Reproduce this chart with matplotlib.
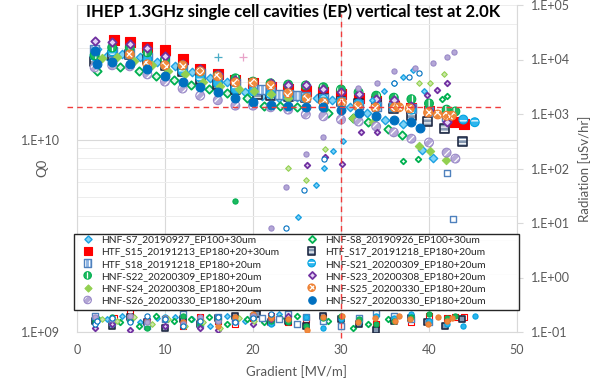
import matplotlib
matplotlib.use('Agg')
import matplotlib.pyplot as plt
import numpy as np
from matplotlib.ticker import FixedLocator, FuncFormatter, NullFormatter
from matplotlib.patches import Rectangle
from matplotlib.lines import Line2D

plt.rcParams['font.family'] = ['Lato', 'DejaVu Sans']
plt.rcParams['hatch.linewidth'] = 0.9

# ---------------- data (Q0 in units of 1e10, radiation in uSv/hr) ----------------
s7_g = [2.3, 3.4, 5.1, 7.2, 9.1, 11.1, 13.1, 15.1, 17.0, 19.1, 21.0, 23.0, 25.0, 27.3, 29.0, 31.0, 33.0, 35.0, 37.0, 39.2, 40.5]
s7_q = [2.94, 2.71, 2.77, 2.67, 2.52, 2.40, 2.24, 2.08, 1.98, 1.76, 1.69, 1.65, 1.67, 1.64, 1.60, 1.47, 1.37, 1.27, 1.21, 0.887, 0.806]
s7_rg = [2.3, 3.4, 5.1, 7.2, 9.1, 11.1, 13.1, 15.1, 17.0, 19.1, 21.0, 23.0, 25.1, 27.2, 28.1, 29.1, 30.2, 33.5, 34.9, 36.0, 37.0, 38.2, 39.4]
s7_r = [0.16, 0.17, 0.2, 0.15, 0.18, 0.19, 0.17, 0.13, 0.2, 0.16, 0.18, 0.21, 13, 50, 102, 210, 316, 1800, 2600, 3700, 4700, 6400, 2600]

s8_g = [2.3, 4.9, 7, 9, 11, 13, 15, 17, 19.3, 21.3, 23.1, 25, 28.5, 31.4, 33.1, 35.3, 36.9]
s8_q = [2.26, 2.37, 2.26, 2.15, 2.05, 1.93, 1.82, 1.74, 1.65, 1.50, 1.50, 1.47, 1.38, 1.29, 1.23, 1.14, 1.06]
s8_rg = [2.3, 4.9, 7, 9, 11, 13, 15, 17, 19.3, 21.3, 23.1, 25, 28.5, 31.4, 33.1, 35.3, 37, 38.8, 41.5, 42]
s8_r = [0.18, 0.15, 0.13, 0.2, 0.16, 0.17, 0.19, 0.14, 0.17, 0.15, 0.18, 0.2, 0.16, 0.12, 0.14, 0.17, 138, 150, 1900, 2100]

s15_g = [4.2, 6, 8, 10, 12, 14, 16, 18, 20, 22, 24, 26, 28, 30, 32, 34, 36, 38, 40, 42, 43, 44]
s15_q = [3.28, 3.20, 3.01, 2.91, 2.61, 2.32, 2.18, 2.05, 1.96, 1.87, 1.82, 1.78, 1.76, 1.72, 1.65, 1.58, 1.50, 1.45, 1.40, 1.32, 1.24, 1.20]
s15_r = [0.18, 0.22, 0.15, 0.17, 0.13, 0.19, 0.16, 0.14, 0.18, 0.2, 0.15, 0.17, 0.19, 0.13, 0.16, 0.14, 0.18, 0.15, 0.2, 0.18, 0.19, 0.19]

s17_g = [2, 4, 6, 8, 10, 12, 14, 16, 18, 20.5, 22, 24, 26, 28, 30, 32, 34, 36, 38, 39.8, 41.8, 43.8]
s17_q = [2.55, 2.74, 2.77, 2.61, 2.43, 2.26, 2.05, 1.93, 1.82, 1.72, 1.69, 1.67, 1.65, 1.64, 1.58, 1.54, 1.54, 1.45, 1.33, 1.24, 1.14, 0.976]
s17_r = [0.16, 0.13, 0.19, 0.15, 0.12, 0.17, 0.14, 0.18, 0.2, 0.21, 0.15, 0.16, 0.13, 0.2, 0.17, 0.14, 0.11, 0.16, 0.18, 0.15, 0.13, 0.17]

s18_g = [2, 4, 6, 8, 10, 12, 14, 16, 18, 20, 21, 22, 23, 24, 25, 26, 28, 30, 32, 34, 36, 38, 40, 42]
s18_q = [2.94, 2.87, 2.80, 2.67, 2.55, 2.37, 2.21, 2.10, 1.96, 1.89, 1.82, 1.78, 1.72, 1.72, 1.69, 1.67, 1.64, 1.58, 1.52, 1.49, 1.49, 1.45, 1.40, 1.32]
s18_rg = [2, 4, 6, 8, 10, 12, 14, 16, 18, 20, 21, 22, 23, 24, 25, 26, 28, 30, 32, 34, 36, 38, 40, 42, 42.7]
s18_r = [0.2, 0.15, 0.18, 0.13, 0.17, 0.21, 0.14, 0.19, 0.16, 0.2, 0.18, 0.15, 0.17, 0.21, 0.14, 0.19, 0.16, 0.13, 0.18, 0.22, 0.2, 0.17, 0.15, 83, 12]

s21_g = [2, 4, 6, 8, 10, 12, 14, 16, 18, 20, 22, 24, 26, 28, 30, 32, 34, 36, 38, 40, 42, 43.9, 45.2]
s21_q = [2.71, 2.87, 2.77, 2.61, 2.43, 2.26, 2.10, 1.96, 1.82, 1.78, 1.72, 1.67, 1.64, 1.62, 1.58, 1.54, 1.50, 1.47, 1.43, 1.40, 1.35, 1.27, 1.23]
s21_r = [0.17, 0.14, 0.2, 0.16, 0.19, 0.13, 0.18, 0.15, 0.17, 0.2, 0.14, 0.16, 0.19, 0.12, 0.17, 0.15, 0.2, 0.18, 0.21, 0.16, 0.14, 0.13, 0.2]

s22_g = [2, 4, 6, 8, 10, 12, 14, 16, 18, 20, 22, 24, 26, 28, 30, 32, 34, 36, 38, 40, 42, 43]
s22_q = [2.74, 3.01, 3.01, 2.84, 2.61, 2.43, 2.26, 2.15, 2.08, 2.00, 1.96, 1.93, 1.91, 1.87, 1.82, 1.76, 1.69, 1.65, 1.62, 1.54, 1.43, 1.40]
s22_r = [0.15, 0.19, 0.16, 0.12, 0.18, 0.2, 0.14, 0.17, 25, 0.19, 0.16, 0.15, 0.13, 0.18, 0.2, 0.17, 0.14, 0.16, 0.19, 0.21, 0.18, 0.2]

s23_g = [2, 4, 6, 8, 10, 12, 14, 16, 18, 20, 22, 24, 26, 28, 30, 32, 34, 36, 38, 40, 42]
s23_q = [3.24, 3.20, 3.12, 2.98, 2.71, 2.46, 2.32, 2.18, 2.05, 1.98, 1.96, 1.93, 1.91, 1.84, 1.76, 1.72, 1.62, 1.60, 1.50, 1.40, 1.23]
s23_rg = [2, 4, 6, 8, 10, 12, 14, 16, 18, 20, 22, 24, 26.1, 28.2, 30.1, 32.3, 34.1, 39.8, 40.9, 42]
s23_r = [0.12, 0.14, 0.11, 0.17, 0.13, 0.15, 0.12, 0.11, 0.16, 0.14, 0.17, 0.2, 115, 162, 120, 470, 470, 2240, 2750, 3700]

s24_g = [2.8, 4.5, 6.5, 8.5, 10.3, 12.3, 14.3, 16.3, 18.4, 20.1, 22, 24, 26, 28, 30, 31.4, 33.6, 35.9, 38.9, 40.1, 41.9]
s24_q = [2.64, 2.67, 2.55, 2.43, 2.26, 2.18, 2.00, 1.89, 1.82, 1.78, 1.72, 1.65, 1.62, 1.54, 1.43, 1.29, 1.24, 1.09, 0.93, 0.876, 0.787]
s24_rg = [2.8, 4.5, 6.5, 8.5, 10.3, 12.3, 14.3, 16.3, 18.4, 20.1, 22, 24, 26, 28.2, 38.9, 40.1, 41.7]
s24_r = [0.17, 0.16, 0.19, 0.14, 0.17, 0.13, 0.15, 0.12, 0.18, 0.16, 0.2, 102, 62, 228, 3700, 3700, 5400]

s25_g = [6, 8, 10, 12, 14, 16, 18, 20, 22, 24, 26.1, 28, 30.1, 31.9, 33.9, 36.1, 36.6, 37.8, 39.9, 41, 42, 42.6]
s25_q = [2.77, 2.46, 2.43, 2.43, 2.26, 2.13, 1.98, 1.98, 1.91, 1.74, 1.64, 1.56, 1.56, 1.49, 1.47, 1.47, 1.47, 1.45, 1.38, 1.35, 1.33, 1.33]
s25_r = [0.2, 0.16, 0.18, 0.15, 0.17, 0.13, 0.19, 0.21, 0.18, 0.17, 0.11, 0.19, 0.2, 0.15, 0.18, 0.16, 0.2, 0.17, 0.14, 0.19, 0.16, 0.18]

s26_g = [2, 4, 6, 8, 10, 12, 14, 16, 18, 20, 22, 24, 26, 28, 30, 32, 34, 36, 38, 40, 42, 43]
s26_q = [2.37, 2.43, 2.40, 2.18, 2.00, 1.84, 1.69, 1.60, 1.50, 1.50, 1.47, 1.43, 1.35, 1.32, 1.27, 1.24, 1.17, 1.09, 1.01, 0.965, 0.855, 0.796]
s26_rg = [2, 4, 6, 8, 10, 12, 14, 16, 18, 20, 22, 23.7, 26, 28, 31.9, 34.1, 36, 38.4, 40.5, 42, 42.8]
s26_r = [0.19, 0.17, 0.2, 0.15, 0.18, 0.14, 0.19, 0.16, 0.15, 0.2, 8, 46, 185, 380, 3000, 3700, 6200, 6900, 8700, 11000, 13800]

s27_g = [2, 2.3, 4, 6, 8, 10, 12, 14, 16, 18, 20, 22, 24, 26, 28, 30, 32, 34, 36, 38, 39]
s27_q = [2.87, 2.46, 2.52, 2.46, 2.32, 2.13, 1.98, 1.87, 1.76, 1.64, 1.56, 1.52, 1.50, 1.47, 1.47, 1.43, 1.38, 1.32, 1.27, 1.23, 1.15]
s27_rg = [2, 2.3, 4, 6, 8, 10, 12, 14, 16, 18, 20, 22, 23.7, 25.8, 28.1, 36, 37.7, 38.9]
s27_r = [0.14, 0.16, 0.18, 0.15, 0.2, 0.17, 0.13, 0.16, 0.19, 0.15, 0.18, 0.21, 8, 40, 150, 3700, 4800, 5600]

plus_g = [16.0, 18.9]
plus_r = [11000, 11000]

labels = ['HNF-S7_20190927_EP100+30um', 'HNF-S8_20190926_EP100+30um',
          'HTF_S15_20191213_EP180+20+30um', 'HTF_S17_20191218_EP180+20um',
          'HTF_S18_20191218_EP180+20um', 'HNF-S21_20200309_EP180+20um',
          'HNF-S22_20200309_EP180+20um', 'HNF-S23_20200308_EP180+20um',
          'HNF-S24_20200308_EP180+20um', 'HNF-S25_20200330_EP180+20um',
          'HNF-S26_20200330_EP180+20um', 'HNF-S27_20200330_EP180+20um']

q_grad = [s7_g, s8_g, s15_g, s17_g, s18_g, s21_g, s22_g, s23_g, s24_g, s25_g, s26_g, s27_g]
q_vals = [s7_q, s8_q, s15_q, s17_q, s18_q, s21_q, s22_q, s23_q, s24_q, s25_q, s26_q, s27_q]
r_grad = [s7_rg, s8_rg, s15_g, s17_g, s18_rg, s21_g, s22_g, s23_rg, s24_rg, s25_g, s26_rg, s27_rg]
r_vals = [s7_r, s8_r, s15_r, s17_r, s18_r, s21_r, s22_r, s23_r, s24_r, s25_r, s26_r, s27_r]

# ---------------- styles ----------------
styles = [
    dict(m='D', fc='#7FD3F7', ec='#1BA1E2', hatch=None, lw=1.0),          # S7
    dict(m='D', fc='#E2F5E8', ec='#00B050', hatch=None, lw=1.3),          # S8
    dict(m='s', fc='#FF0000', ec='#FF0000', hatch=None, lw=0.8),          # S15
    dict(m='s', fc='#8497B0', ec='#1F2A44', hatch='----', lw=1.2),        # S17
    dict(m='s', fc='#8EB4E3', ec='#4F81BD', hatch='||||', lw=1.0),        # S18
    dict(m='o', fc='#2DB5EE', ec='#00A3E0', hatch='--', lw=0.8),          # S21
    dict(m='o', fc='#1FB860', ec='#00B050', hatch='||', lw=0.8),          # S22
    dict(m='D', fc='#E4D2F5', ec='#7030A0', hatch=None, lw=1.3),          # S23
    dict(m='D', fc='#92D050', ec='#92D050', hatch=None, lw=0.8),          # S24
    dict(m='o', fc='#F08A3C', ec='#ED7D31', hatch='xxxx', lw=0.8),        # S25
    dict(m='o', fc='#B4A7D6', ec='#9A8AC8', hatch='////', lw=0.8),        # S26
    dict(m='o', fc='#0070C0', ec='#0070C0', hatch=None, lw=0.8),          # S27
]
rad_fc = ['#7FD3F7', '#FFFFFF', '#FFFFFF', '#8497B0', '#FFFFFF', '#2DB5EE',
          '#1FB860', '#E4D2F5', '#C9E7A7', '#F08A3C', '#B4A7D6', '#FFFFFF']


def draw(axis, x, y, st, size, z, fc=None, hatch=True):
    fc = st['fc'] if fc is None else fc
    if st['hatch'] and hatch:
        b = axis.scatter(x, y, s=size, marker=st['m'], facecolors=fc, edgecolors='white',
                         linewidths=0, hatch=st['hatch'], zorder=z)
        o = axis.scatter(x, y, s=size, marker=st['m'], facecolors='none', edgecolors=st['ec'],
                         linewidths=st['lw'], zorder=z)
        return (b, o)
    return (axis.scatter(x, y, s=size, marker=st['m'], facecolors=fc, edgecolors=st['ec'],
                         linewidths=st['lw'], zorder=z),)


fig = plt.figure(figsize=(6, 3.79), dpi=100)
ax = fig.add_axes([77 / 600, 1 - 332 / 379, 440 / 600, 327 / 379])
ax2 = ax.twinx()

ax.set_xlim(0, 50)
ax.set_yscale('log')
ax.set_ylim(1e9, 5e10)
ax2.set_yscale('log')
ax2.set_ylim(1e-1, 1e5)

handles = []
for i, st in enumerate(styles):
    big = 18 if st['m'] == 'D' else (48 if i == 2 else 40)
    h = draw(ax, q_grad[i], np.array(q_vals[i]) * 1e10, st, big, 3 + i * 0.01)
    handles.append(h)
for i, st in enumerate(styles):
    small = 8 if st['m'] == 'D' else 14
    draw(ax2, r_grad[i], r_vals[i], st, small, 3 + i * 0.01, fc=rad_fc[i], hatch=False)
ax2.scatter(plus_g[:1], plus_r[:1], marker='+', s=28, color='#4BACC6', linewidths=0.9, zorder=3)
ax2.scatter(plus_g[1:], plus_r[1:], marker='+', s=28, color='#E8A3C8', linewidths=0.9, zorder=3)

# ---------------- axes styling ----------------
fmt = FuncFormatter(lambda v, p: "1.E{:+03d}".format(int(round(np.log10(v)))))
ax.yaxis.set_major_locator(FixedLocator([1e9, 1e10]))
ax.yaxis.set_minor_locator(FixedLocator([k * 1e9 for k in range(2, 10)] + [k * 1e10 for k in range(2, 6)]))
ax.yaxis.set_major_formatter(fmt)
ax.yaxis.set_minor_formatter(NullFormatter())
ax.set_xticks([0, 10, 20, 30, 40, 50])
ax.grid(which='major', axis='both', color='#D9D9D9', lw=0.8)
ax.grid(which='minor', axis='y', color='#EDEDED', lw=0.7)
ax.set_axisbelow(True)
ax.tick_params(axis='both', which='both', length=0, labelsize=9, labelcolor='#595959')
ax.tick_params(axis='x', pad=9)
ax.tick_params(axis='y', pad=12)
ax.spines['top'].set_visible(False)
for sp in ['left', 'bottom', 'right']:
    ax.spines[sp].set_color('#D9D9D9')
for sp in ax2.spines.values():
    sp.set_visible(False)

ax2.yaxis.set_major_locator(FixedLocator([10.0 ** k for k in range(-1, 6)]))
ax2.yaxis.set_minor_locator(FixedLocator([]))
ax2.yaxis.set_major_formatter(fmt)
ax2.tick_params(axis='y', which='major', direction='out', length=4, color='#D9D9D9',
                labelsize=9, labelcolor='#595959', pad=6)

fig.text(0.07, 1 - 168 / 379, 'Q0', rotation=90, ha='center', va='center', fontsize=9.5, color='#595959')
fig.text(297 / 600, 1 - 372 / 379, 'Gradient [MV/m]', ha='center', va='center', fontsize=9.5, color='#595959')
fig.text(585 / 600, 1 - 169 / 379, 'Radiation [uSv/hr]', rotation=90, ha='center', va='center', fontsize=9.5, color='#595959')
fig.text(293 / 600, 1 - 12 / 379, 'IHEP 1.3GHz single cell cavities (EP) vertical test at 2.0K',
         ha='center', va='center', fontsize=12.0, fontweight='bold', color='black')

# ---------------- legend (box + two columns) ----------------
box = Rectangle((-3 / 440, 22 / 327), 445 / 440, 76 / 327, transform=ax2.transAxes,
                facecolor='white', alpha=0.88, edgecolor='none', zorder=4.8, clip_on=False)
ax2.add_patch(box)
box2 = Rectangle((-3 / 440, 22 / 327), 445 / 440, 76 / 327, transform=ax2.transAxes,
                 facecolor='none', edgecolor='#262626', lw=1.0, zorder=4.9, clip_on=False)
ax2.add_patch(box2)

leg_kw = dict(loc='upper left', frameon=False, fontsize=7.4, handlelength=1.1, handletextpad=0.8,
              labelspacing=0.3, borderpad=0, borderaxespad=0,
              scatterpoints=1, scatteryoffsets=[0.5], markerscale=0.85)
col1 = [0, 2, 4, 6, 8, 10]
col2 = [1, 3, 5, 7, 9, 11]
leg1 = ax2.legend([handles[k] for k in col1], [labels[k] for k in col1],
                  bbox_to_anchor=(5 / 440, (332 - 235) / 327), **leg_kw)
ax2.add_artist(leg1)
leg2 = ax2.legend([handles[k] for k in col2], [labels[k] for k in col2],
                  bbox_to_anchor=((306 - 77) / 440, (332 - 235) / 327), **leg_kw)
for lg in (leg1, leg2):
    for t in lg.get_texts():
        t.set_color('#262626')
    lg.set_zorder(5)

# ---------------- reference dashed lines ----------------
hline = Line2D([-1.1, 48.4], [1.47e10, 1.47e10], transform=ax.transData, color='#F03C3C',
               lw=1.0, ls=(0, (4, 3)), zorder=10, clip_on=False)
vline = Line2D([30, 30], [0.93e9, 4.47e10], transform=ax.transData, color='#F03C3C',
               lw=1.0, ls=(0, (4, 3)), zorder=10, clip_on=False)
ax2.add_line(hline)
ax2.add_line(vline)

fig.savefig('out.png', dpi=100)
